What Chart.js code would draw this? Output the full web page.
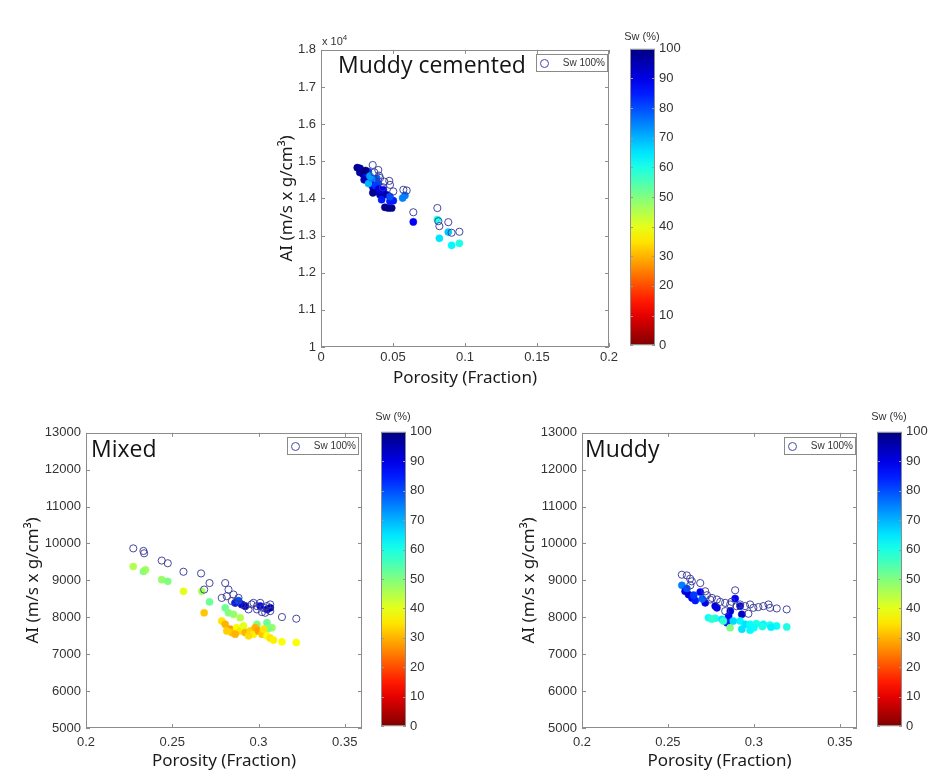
<!DOCTYPE html>
<html>
<head>
<meta charset="utf-8">
<script src="https://cdn.jsdelivr.net/npm/chart.js@4.4.1/dist/chart.umd.min.js"></script>
<style>
html,body{margin:0;padding:0;background:#fff;width:945px;height:781px;overflow:hidden;position:relative;}
canvas{position:absolute;display:block;}
.lbl{position:absolute;font-family:"Open Sans","Noto Sans",sans-serif;color:#141414;white-space:nowrap;line-height:24px;font-size:23px;}
.leg{position:absolute;box-sizing:border-box;width:72px;height:18px;border:1px solid #8a8a8a;background:#fff;font-family:"Liberation Sans",Arial,sans-serif;font-size:10px;color:#333;}
.leg .c{position:absolute;left:3px;top:4px;width:7px;height:7px;border:1px solid #4a4aa6;border-radius:50%;}
.leg .t{position:absolute;right:2px;top:2px;line-height:12px;}
.sw{position:absolute;font-family:"Liberation Sans",Arial,sans-serif;font-size:11px;color:#333;width:50px;text-align:center;line-height:12px;}
.exp{position:absolute;font-family:"Liberation Sans",Arial,sans-serif;font-size:11px;color:#333;line-height:12px;}
.exp sup{font-size:8px;vertical-align:5px;}
</style>
</head>
<body>
<canvas id="mc" width="351" height="355" style="left:273px;top:37px;"></canvas>
<canvas id="mcBar" width="62" height="320" style="left:630px;top:37px;"></canvas>
<canvas id="mx" width="358" height="355" style="left:19px;top:420px;"></canvas>
<canvas id="mxBar" width="62" height="318" style="left:381px;top:420px;"></canvas>
<canvas id="md" width="357" height="355" style="left:515px;top:420px;"></canvas>
<canvas id="mdBar" width="62" height="318" style="left:877px;top:420px;"></canvas>

<div class="lbl" style="left:338px;top:52px;">Muddy cemented</div>
<div class="lbl" style="left:91px;top:436px;">Mixed</div>
<div class="lbl" style="left:585px;top:436px;">Muddy</div>

<div class="leg" style="left:536px;top:54px;"><span class="c"></span><span class="t">Sw 100%</span></div>
<div class="leg" style="left:287px;top:437px;"><span class="c"></span><span class="t">Sw 100%</span></div>
<div class="leg" style="left:784px;top:437px;"><span class="c"></span><span class="t">Sw 100%</span></div>

<div class="sw" style="left:617px;top:30px;">Sw (%)</div>
<div class="sw" style="left:368px;top:410px;">Sw (%)</div>
<div class="sw" style="left:864px;top:410px;">Sw (%)</div>

<div class="exp" style="left:322px;top:32px;">x 10<sup>4</sup></div>

<script>
// ---------------- DATA ----------------
// Muddy cemented
const mcOpenPhi = [0.0359,0.0398,0.0403,0.0474,0.0479,0.0502,0.0572,0.0595,0.0641,0.0808,0.0815,0.0822,0.0884,0.0907,0.0961,0.037,0.041,0.044,0.043];
const mcOpenAI  = [14899,14765,14613,14472,14365,14187,14232,14213,13627,13741,13387,13253,13360,13075,13102,14700,14550,14450,14300];
const mcFillPhi = [0.0252,0.0271,0.0283,0.0292,0.0306,0.0317,0.0329,0.034,0.0352,0.0363,0.0375,0.0387,0.0398,0.041,0.0421,0.0433,0.0444,0.0467,0.0491,0.0479,0.0502,0.0456,0.0479,0.0567,0.0583,0.0641,0.0808,0.0822,0.0884,0.0907,0.0961,0.027,0.030,0.033,0.035,0.038,0.040,0.031,0.036,0.034];
const mcFillAI  = [14827,14808,14738,14650,14613,14542,14720,14453,14365,14275,14187,14542,14400,14098,13965,14232,13760,13741,13741,13920,13938,14098,14050,14008,14080,13368,13431,12925,13093,12738,12792,14700,14500,14400,14550,14350,14250,14750,14150,14600];
const mcFillSw  = [98,97,92,95,88,85,80,90,95,92,88,78,80,97,85,88,99,99,99,85,85,96,80,75,75,88,60,65,68,63,60,98,95,70,75,82,90,100,98,72];

// Mixed
const mxOpenPhi = [0.2274,0.2333,0.2337,0.2439,0.2474,0.2565,0.2667,0.2716,0.2685,0.2807,0.2826,0.2816,0.2855,0.2884,0.2865,0.2903,0.2923,0.2942,0.2971,0.2991,0.301,0.3029,0.3049,0.3068,0.3068,0.3039,0.3136,0.3219,0.2991,0.302,0.2787,0.2845,0.2960];
const mxOpenAI  = [9868,9798,9734,9537,9465,9234,9189,8928,8751,8928,8751,8571,8617,8525,8391,8348,8303,8214,8391,8303,8391,8257,8303,8348,8168,8123,8007,7962,8214,8140,8525,8440,8350];
const mxFillPhi = [0.2274,0.2333,0.2345,0.2439,0.2474,0.2565,0.2671,0.2716,0.2685,
                   0.2865,0.2903,0.2923,0.301,0.3049,0.3068,0.2884,
                   0.2807,0.2826,0.2855,0.2894,0.2991,0.3049,0.3078,0.3059,
                   0.2787,0.2807,0.2836,0.2845,0.2874,0.2894,0.2913,0.2923,0.2952,0.2971,0.2981,0.3,0.302,0.3029,0.3049,0.3068,0.3087,0.3136,0.3219,0.2942,0.2816,0.2865];
const mxFillAI  = [9377,9242,9288,9019,8974,8705,8705,8418,8123,
                   8391,8348,8303,8303,8214,8257,8450,
                   8257,8123,8080,7988,7810,7854,7720,7700,
                   7900,7810,7677,7586,7720,7631,7765,7586,7631,7543,7720,7631,7543,7677,7497,7435,7382,7336,7317,7497,7631,7543];
const mxFillSw  = [45,50,47,48,50,40,46,52,32,
                   85,90,92,88,90,95,80,
                   52,50,48,45,50,52,48,50,
                   35,30,28,32,38,35,40,30,33,36,30,28,32,35,38,35,36,38,38,34,33,30];

// Muddy
const mdOpenPhi = [0.2581,0.261,0.2629,0.2639,0.2688,0.263,0.2727,0.2756,0.2785,0.2804,0.2833,0.2862,0.2891,0.292,0.2949,0.2978,0.2997,0.3026,0.3055,0.3085,0.3094,0.3133,0.3191,0.2833,0.2968,0.2746,0.2717,0.2870,0.2900];
const mdOpenAI  = [9154,9135,9046,8974,8928,8866,8598,8525,8482,8418,8391,8348,8732,8348,8303,8348,8257,8276,8303,8348,8257,8240,8214,8168,8096,8482,8705,8420,8300];
const mdFillPhi = [0.2581,0.26,0.262,0.264,0.2659,0.2688,0.2717,0.2775,0.2785,0.2891,0.2863,0.2853,0.292,0.293,0.2843,0.261,0.265,0.27,
                   0.2736,0.2775,0.2814,0.2823,0.2862,0.292,0.295,0.2978,0.3015,0.3055,0.3094,0.3132,0.3191,0.293,0.2978,0.3,0.305,0.31,0.2755,0.288];
const mdFillAI  = [8866,8705,8616,8525,8455,8686,8391,8303,8257,8509,8168,8034,8303,8080,7854,8780,8600,8500,
                   7988,7972,7945,7900,7720,7900,7810,7810,7827,7810,7790,7765,7738,7677,7650,7720,7750,7730,7950,7900];
const mdFillSw  = [75,90,92,88,85,88,90,92,90,88,92,88,90,93,85,80,82,78,
                   62,60,65,58,50,63,65,62,60,63,60,62,60,65,63,62,60,64,58,66];

// Axis tick values
const swTicks = [0,10,20,30,40,50,60,70,80,90,100];

// ---------------- HELPERS ----------------
function jet(sw){
  const t = 1 - sw/100;
  const c = v => Math.round(255*Math.max(0,Math.min(1,v)));
  return 'rgb(' + c(1.5-Math.abs(4*t-3)) + ',' + c(1.5-Math.abs(4*t-2)) + ',' + c(1.5-Math.abs(4*t-1)) + ')';
}
function pts(xs, ys){ return xs.map((x,i)=>({x:x, y:ys[i]})); }

Chart.defaults.font.family = '"Liberation Sans", Arial, sans-serif';
Chart.defaults.font.size = 13;
Chart.defaults.color = '#333';

const OPEN_COLOR = 'rgba(52,52,150,0.9)';
const FRAME_COLOR = '#8c8c8c';

const framePlugin = {
  id:'frame',
  afterDraw(chart, args, opts){
    const {ctx, chartArea:a, scales} = chart;
    const L = opts.len || 4;
    ctx.save();
    ctx.strokeStyle = opts.tickColor || FRAME_COLOR;
    ctx.lineWidth = 1;
    ctx.beginPath();
    if (opts.xticks){
      const xs = scales.x;
      xs.ticks.forEach(t=>{
        const px = Math.round(xs.getPixelForValue(t.value)) + 0.5;
        ctx.moveTo(px, a.bottom); ctx.lineTo(px, a.bottom - L);
        ctx.moveTo(px, a.top); ctx.lineTo(px, a.top + L);
      });
    }
    const ys = scales.y;
    ys.ticks.forEach(t=>{
      const py = Math.round(ys.getPixelForValue(t.value)) + 0.5;
      ctx.moveTo(a.left, py); ctx.lineTo(a.left + L, py);
      ctx.moveTo(a.right, py); ctx.lineTo(a.right - L, py);
    });
    ctx.stroke();
    ctx.strokeStyle = opts.color || FRAME_COLOR;
    ctx.strokeRect(Math.round(a.left)+0.5, Math.round(a.top)+0.5, Math.round(a.right)-Math.round(a.left)-1, Math.round(a.bottom)-Math.round(a.top)-1);
    ctx.restore();
  }
};

function scatterChart(id, openPhi, openAI, fillPhi, fillAI, fillSw, xcfg, ycfg){
  const fillColors = fillSw.map(jet);
  return new Chart(document.getElementById(id), {
    type:'scatter',
    data:{datasets:[
      {label:'Sw 100%', data:pts(openPhi, openAI), pointStyle:'circle', pointRadius:3.6, pointBorderWidth:1,
       pointBorderColor:OPEN_COLOR, pointBackgroundColor:'rgba(0,0,0,0)', order:0},
      {label:'Sw', data:pts(fillPhi, fillAI), pointStyle:'circle', pointRadius:3.6, pointBorderWidth:0.5,
       pointBorderColor:fillColors, pointBackgroundColor:fillColors, order:1}
    ]},
    options:{
      responsive:false, animation:false, events:[],
      layout:{padding:{top:10,right:15,left:0,bottom:0}},
      plugins:{legend:{display:false}, tooltip:{enabled:false}, frame:{xticks:true}},
      scales:{
        x:{type:'linear', min:xcfg.min, max:xcfg.max,
           ticks:{stepSize:0.05, includeBounds:false, padding:xcfg.pad, color:'#333',
                  callback:v=>String(parseFloat(v.toFixed(2)))},
           grid:{display:false, drawTicks:false}, border:{display:false},
           title:{display:true, text:'Porosity (Fraction)', color:'#1a1a1a',
                  font:{family:'"Noto Sans","Open Sans",sans-serif', size:17}, padding:{top:4,bottom:4}},
           afterFit(s){ s.height = xcfg.h; }},
        y:{type:'linear', min:ycfg.min, max:ycfg.max,
           ticks:{stepSize:1000, padding:5, color:'#333', callback:ycfg.cb},
           grid:{display:false, drawTicks:false}, border:{display:false},
           title:{display:true, text:'AI (m/s x g/cm³)', color:'#1a1a1a',
                  font:{family:'"Noto Sans","Open Sans",sans-serif', size:17}, padding:{top:4,bottom:4}},
           afterFit(s){ s.width = ycfg.w; }}
      }
    },
    plugins:[framePlugin]
  });
}

function colorBar(id){
  return new Chart(document.getElementById(id), {
    type:'bar',
    data:{labels:[''], datasets:[{data:[[0,100]], borderWidth:0, borderSkipped:false,
      barPercentage:1, categoryPercentage:1,
      backgroundColor:(ctx)=>{
        const a = ctx.chart.chartArea;
        if (!a) return 'transparent';
        const g = ctx.chart.ctx.createLinearGradient(0, a.bottom, 0, a.top);
        for (let s=0; s<=100; s+=5) g.addColorStop(s/100, jet(s));
        return g;
      }}]},
    options:{
      responsive:false, animation:false, events:[],
      layout:{padding:{top:10,bottom:10,left:0,right:0}},
      plugins:{legend:{display:false}, tooltip:{enabled:false}, frame:{xticks:false, len:3, tickColor:'#9a9a9a'}},
      scales:{
        x:{display:false},
        y:{position:'right', min:0, max:100, afterBuildTicks(s){ s.ticks = swTicks.map(v=>({value:v})); },
           ticks:{padding:4, color:'#333'},
           grid:{display:false, drawTicks:false}, border:{display:false},
           afterFit(s){ s.width = 37; }}
      }
    },
    plugins:[framePlugin]
  });
}

scatterChart('mc', mcOpenPhi, mcOpenAI, mcFillPhi, mcFillAI, mcFillSw,
  {min:0, max:0.2, pad:3, h:45},
  {min:10000, max:18000, w:48, cb:v=>String(parseFloat((v/10000).toFixed(1)))});
scatterChart('mx', mxOpenPhi, mxOpenAI, mxFillPhi, mxFillAI, mxFillSw,
  {min:0.2, max:0.36, pad:7, h:47},
  {min:5000, max:13000, w:67, cb:v=>String(v)});
scatterChart('md', mdOpenPhi, mdOpenAI, mdFillPhi, mdFillAI, mdFillSw,
  {min:0.2, max:0.36, pad:7, h:47},
  {min:5000, max:13000, w:67, cb:v=>String(v)});
colorBar('mcBar');
colorBar('mxBar');
colorBar('mdBar');
</script>
</body>
</html>
